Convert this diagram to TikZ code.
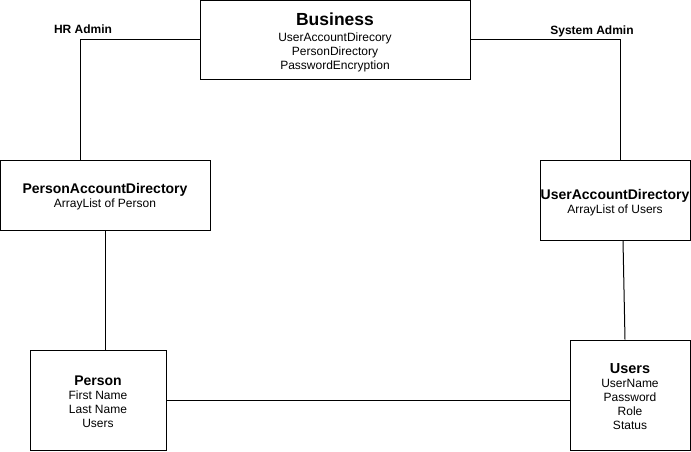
\documentclass[tikz,border=0pt]{standalone}
\usepackage{fontspec}
\setmainfont{Liberation Sans}
\begin{document}
\begin{tikzpicture}[x=1pt,y=1pt,
  box/.style={draw, line width=1pt, inner sep=0pt},
  txt/.style={align=center, inner sep=0pt, font=\fontsize{12}{14}\selectfont},
  lbl/.style={font=\bfseries\fontsize{12}{13}\selectfont, inner sep=0pt},
  conn/.style={line width=1pt}]
\newcommand{\ttlfont}{\bfseries\fontsize{14}{16}\selectfont}
\useasboundingbox (0,0) rectangle (691,451);
\fill[white] (0,0) rectangle (691,451);
\node[box, minimum width=270, minimum height=79] (biz) at (335,411) {};
\node[txt] (biztxt) at ([yshift=-2.5pt]biz.center)
  {{\bfseries\fontsize{17.5}{18}\selectfont Business}\\[2pt]UserAccountDirecory\\PersonDirectory\\PasswordEncryption};
\node[box, minimum width=210, minimum height=70] (pad) at (105,256) {};
\node[txt] (padtxt) at ([yshift=-2pt]pad.center)
  {{\ttlfont PersonAccountDirectory}\\ArrayList of Person};
\node[box, minimum width=150, minimum height=80] (uad) at (615,251) {};
\node[txt] (uadtxt) at ([yshift=-2.5pt]uad.center)
  {{\ttlfont UserAccountDirectory}\\ArrayList of Users};
\node[box, minimum width=136, minimum height=100] (person) at (98,51) {};
\node[txt] (persontxt) at ([yshift=-2pt]person.center)
  {{\ttlfont Person}\\First Name\\Last Name\\Users};
\node[box, minimum width=120, minimum height=110] (users) at (630,56) {};
\node[txt] (userstxt) at ([yshift=-2pt]users.center)
  {{\bfseries\fontsize{14.5}{16}\selectfont Users}\\UserName\\Password\\Role\\Status};
\node[lbl] (hr) at (83,421.5) {HR Admin};
\node[lbl] (sys) at (592,419.5) {System Admin};
\draw[conn] (biz.west) -| ([xshift=-25pt]pad.north);
\draw[conn] (biz.east) -| ([xshift=5pt]uad.north);
\draw[conn] (pad.south) -- (pad.south |- person.north);
\draw[conn] ([xshift=8pt]uad.south) -- ([xshift=-5pt]users.north);
\draw[conn] (person.east) -- (person.east -| users.west);
\end{tikzpicture}
\end{document}
